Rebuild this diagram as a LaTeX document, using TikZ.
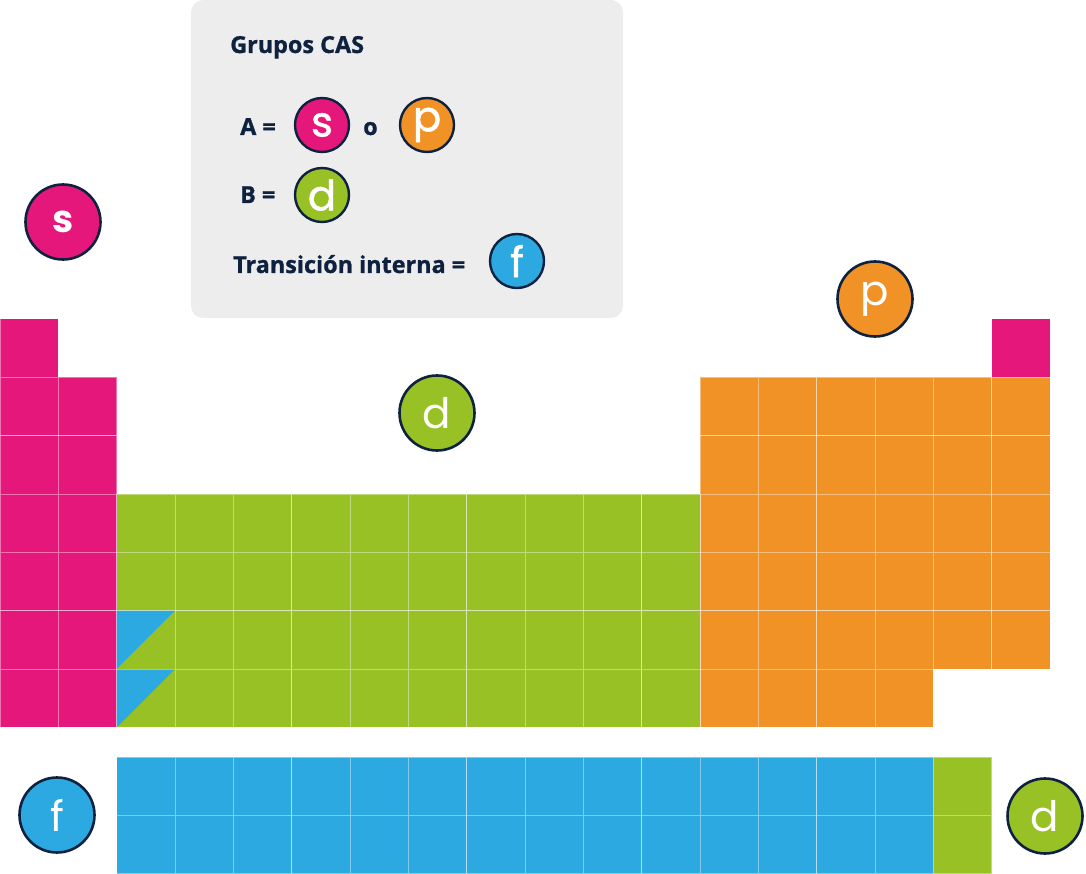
\documentclass[tikz,border=0pt]{standalone}
\usepackage{fontspec}
\setmainfont{Open Sans}[BoldFeatures={FakeBold=1}]
\newfontfamily\popfont{Poppins}
\newfontfamily\popmed[FakeBold=1.2]{Poppins}
\definecolor{cpink}{HTML}{E5177B}
\definecolor{corange}{HTML}{F09226}
\definecolor{cgreen}{HTML}{97C125}
\definecolor{cblue}{HTML}{2DA9E1}
\definecolor{cnavy}{HTML}{0E2240}
\definecolor{cbox}{HTML}{EDEDED}
\tikzset{
  cellst/.style={draw=white, draw opacity=0.4, line width=1pt},
  bigcirc/.style={circle, draw=cnavy, line width=2.6pt, minimum size=75pt, inner sep=0pt, text=white, font=\popfont\fontsize{42}{42}\selectfont},
  smallcirc/.style={circle, draw=cnavy, line width=2.4pt, minimum size=54pt, inner sep=0pt, text=white, font=\popmed\fontsize{42}{42}\selectfont},
  legtext/.style={anchor=base west, inner sep=0pt, text=cnavy, font=\bfseries\fontsize{23.4}{23.4}\selectfont},
}
\newcommand\pcell[3]{\path[cellst,fill=#3] ({#1*58.3333},{#2}) rectangle ++(58.3333,58.3333);}
\newcommand\splitcell[2]{%
  \fill[cgreen] ({#1*58.3333},{#2}) rectangle ++(58.3333,58.3333);
  \fill[cblue] ({#1*58.3333},{#2}) -- ++(58.3333,0) -- ({#1*58.3333},{#2+58.3333}) -- cycle;
  \path[cellst] ({#1*58.3333},{#2}) rectangle ++(58.3333,58.3333);}
\begin{document}
\begin{tikzpicture}[x=1pt,y=-1pt]
\useasboundingbox (0,0) rectangle (1086,874);
% legend box
\fill[cbox, rounded corners=12pt] (191,0) rectangle (623,318);
\node[legtext] (title) at (230,53) {Grupos CAS};
\node[legtext] (la) at (240,135) {A =};
\node[smallcirc, fill=cpink] (ls) at (322,125) {s};
\node[legtext] (lo) at (363,135) {o};
\node[smallcirc, fill=corange] (lp) at (427,125) {p};
\node[legtext] (lb) at (240,203) {B =};
\node[smallcirc, fill=cgreen] (ld) at (322,195) {d};
\node[legtext] (lt) at (233,273) {Transición interna =};
\node[smallcirc, fill=cblue] (lf) at (517,261) {f};
% table
\pcell{0}{319}{cpink}
\pcell{17}{319}{cpink}
\foreach \r in {377.3333,435.6667,494,552.3333,610.6667,669}{
  \foreach \c in {0,1}{\pcell{\c}{\r}{cpink}}
}
\foreach \r in {377.3333,435.6667,494,552.3333,610.6667}{
  \foreach \c in {12,...,17}{\pcell{\c}{\r}{corange}}
}
\foreach \c in {12,...,15}{\pcell{\c}{669}{corange}}
\foreach \r in {494,552.3333}{
  \foreach \c in {2,...,11}{\pcell{\c}{\r}{cgreen}}
}
\foreach \r in {610.6667,669}{
  \splitcell{2}{\r}
  \foreach \c in {3,...,11}{\pcell{\c}{\r}{cgreen}}
}
\foreach \r in {757,815.3333}{
  \foreach \c in {2,...,15}{\pcell{\c}{\r}{cblue}}
  \pcell{16}{\r}{cgreen}
}
% big circles
\node[bigcirc, fill=cpink, font=\popfont\bfseries\fontsize{38}{38}\selectfont] (bs) at (63,222) {s};
\node[bigcirc, fill=corange] (bp) at (875,299) {p};
\node[bigcirc, fill=cgreen] (bd) at (437,413) {d};
\node[bigcirc, fill=cblue] (bf) at (57,815) {f};
\node[bigcirc, fill=cgreen] (bd2) at (1045,816) {d};
\end{tikzpicture}
\end{document}
